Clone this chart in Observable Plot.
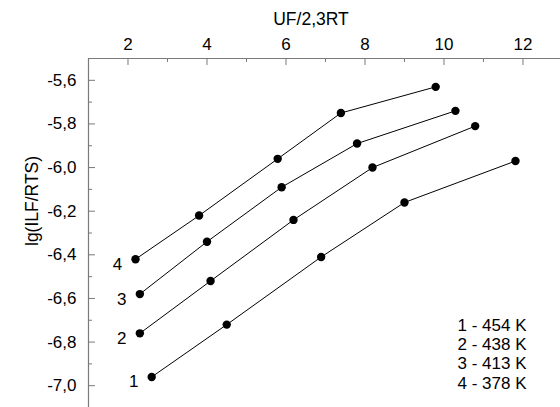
<!DOCTYPE html>
<html><head><meta charset="utf-8">
<script src="https://cdn.jsdelivr.net/npm/d3@7"></script>
<script src="https://cdn.jsdelivr.net/npm/@observablehq/plot@0.6"></script>
<style>body{margin:0;background:#fff} svg{display:block}</style>
</head><body><div id="chart"></div>
<script>
const seriesNames = ["1", "2", "3", "4"];
const x1 = [2.60, 4.50, 6.89, 9.00, 11.81];
const y1 = [-6.96, -6.72, -6.41, -6.16, -5.97];
const x2 = [2.30, 4.09, 6.19, 8.19, 10.79];
const y2 = [-6.76, -6.52, -6.24, -6.00, -5.81];
const x3 = [2.30, 4.00, 5.89, 7.80, 10.29];
const y3 = [-6.58, -6.34, -6.09, -5.89, -5.74];
const x4 = [2.19, 3.80, 5.79, 7.39, 9.79];
const y4 = [-6.42, -6.22, -5.96, -5.75, -5.63];
const legendLines = ["1 - 454 K", "2 - 438 K", "3 - 413 K", "4 - 378 K"];
const xMajor = [2, 4, 6, 8, 10, 12];
const xMinor = [3, 5, 7, 9, 11];
const yMajor = [-5.6, -5.8, -6.0, -6.2, -6.4, -6.6, -6.8, -7.0];
const yMinor = [-5.7, -5.9, -6.1, -6.3, -6.5, -6.7, -6.9];
const xLabel = "UF/2,3RT";
const yLabel = "lg(ILF/RTS)";

const xs = [x1, x2, x3, x4], ys = [y1, y2, y3, y4];
const data = [];
seriesNames.forEach((s, i) => xs[i].forEach((x, j) => data.push({series: s, x, y: ys[i][j]})));
const firsts = seriesNames.map((s, i) => ({series: s, x: xs[i][0], y: ys[i][0]}));

const W = 560, H = 407, mT = 58, mL = 88, mR = 0, mB = 0;
const axisColor = "#7a7a7a";
const fmt = d => d3.format(".1f")(d).replace("−", "-").replace(".", ",");

const chart = Plot.plot({
  width: W, height: H,
  marginTop: mT, marginLeft: mL, marginRight: mR, marginBottom: mB,
  style: {fontFamily: "'Liberation Sans', Arial, sans-serif", fontSize: "17px", color: "#000", background: "#fff"},
  x: {domain: [1, 12.95]},
  y: {domain: [-7.1, -5.5]},
  marks: [
    // axis lines
    Plot.ruleY([-5.5], {stroke: axisColor, strokeWidth: 1.2}),
    Plot.ruleX([1], {stroke: axisColor, strokeWidth: 1.2}),
    // inward ticks
    Plot.ruleX(xMajor, {stroke: axisColor, insetBottom: H - mT - mB - 7}),
    Plot.ruleX(xMinor, {stroke: axisColor, insetBottom: H - mT - mB - 4}),
    Plot.ruleY(yMajor, {stroke: axisColor, insetRight: W - mL - mR - 7}),
    Plot.ruleY(yMinor, {stroke: axisColor, insetRight: W - mL - mR - 4}),
    // tick labels
    Plot.axisX(xMajor, {anchor: "top", tickSize: 0, tickPadding: 9, label: null, fontSize: 17}),
    Plot.axisY(yMajor, {anchor: "left", tickSize: 0, tickPadding: 12, label: null, tickFormat: fmt, fontSize: 17}),
    // axis titles
    Plot.text([xLabel], {frameAnchor: "top", dx: -13.5, dy: -34, lineAnchor: "bottom", fontSize: 17.5}),
    Plot.text([yLabel], {frameAnchor: "left", rotate: -90, dx: -56, dy: 13, fontSize: 17.5}),
    // series
    Plot.line(data, {x: "x", y: "y", z: "series", stroke: "#000", strokeWidth: 1}),
    Plot.dot(data, {x: "x", y: "y", r: 4.2, fill: "#000"}),
    Plot.text(firsts, {x: "x", y: "y", text: "series", dx: -18, dy: 5, fontSize: 17}),
    // legend
    Plot.text([legendLines.join("\n")], {frameAnchor: "bottom-right", textAnchor: "start", lineAnchor: "bottom", dx: -103, dy: -19, lineHeight: 1.12, fontSize: 17})
  ]
});
document.getElementById("chart").appendChild(chart);
</script>
</body></html>
